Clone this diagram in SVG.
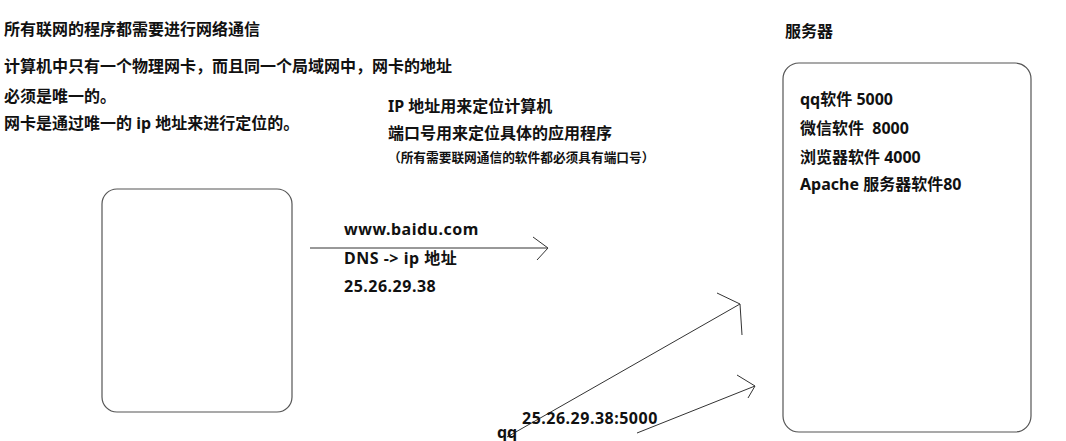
<svg xmlns="http://www.w3.org/2000/svg" width="1066" height="441" viewBox="0 0 1066 441">
<style>
.t{font-family:"Noto Sans","Noto Sans CJK SC",sans-serif;font-weight:bold;font-size:16px;fill:#111;white-space:pre}
.s{font-size:12.7px}
.n{letter-spacing:0.5px}
.box{fill:#fff;stroke:#555;stroke-width:1.2}
.ln{fill:none;stroke:#333;stroke-width:1}
</style>
<rect width="1066" height="441" fill="#fff"/>
<g id="notes">
<text class="t" x="4" y="35">所有联网的程序都需要进行网络通信</text>
<text class="t" x="4" y="72">计算机中只有一个物理网卡，而且同一个局域网中，网卡的地址</text>
<text class="t" x="4" y="102">必须是唯一的。</text>
<text class="t" x="4" y="129">网卡是通过唯一的 ip 地址来进行定位的。</text>
<text class="t" x="388" y="112">IP 地址用来定位计算机</text>
<text class="t" x="388" y="139">端口号用来定位具体的应用程序</text>
<text class="t s" x="388" y="162">（所有需要联网通信的软件都必须具有端口号）</text>
</g>
<g id="client">
<rect class="box" x="102" y="189" width="190" height="223" rx="15"/>
</g>
<g id="server">
<text class="t" x="785" y="37">服务器</text>
<rect class="box" x="783" y="63" width="248" height="369" rx="16"/>
<text class="t" x="800" y="105">qq软件 5000</text>
<text class="t" x="800" y="134">微信软件  8000</text>
<text class="t" x="800" y="163">浏览器软件 4000</text>
<text class="t" x="800" y="190">Apache 服务器软件80</text>
</g>
<g id="connectors">
<path class="ln" d="M310 248 H547 M533 237 L548 248 L537 260"/>
<path class="ln" d="M507 437 L740 304 M717 293 L740 304 L742 335"/>
<path class="ln" d="M637 433 L755 386 M737 375 L755 386 L748 398"/>
<text class="t n" x="344" y="235">www.baidu.com</text>
<text class="t n" x="344" y="264">DNS -&gt; ip 地址</text>
<text class="t n" x="344" y="292">25.26.29.38</text>
<text class="t n" x="522" y="424">25.26.29.38:5000</text>
<text class="t" x="497" y="438">qq</text>
</g>
</svg>
